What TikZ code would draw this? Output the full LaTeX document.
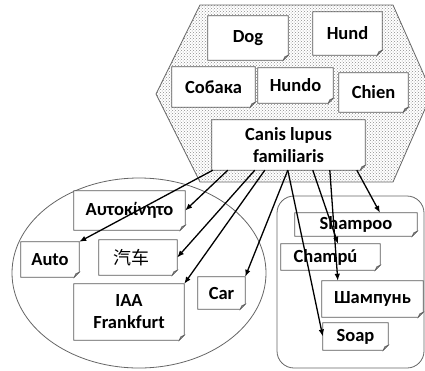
\documentclass[tikz,border=0pt]{standalone}
\usepackage{fontspec}
\setmainfont{Carlito}
\newfontfamily\cjkfont{Noto Sans CJK SC}
\usetikzlibrary{arrows.meta,patterns,calc}
\pgfdeclarelayer{bg}
\pgfsetlayers{bg,main}
\begin{document}
\begin{tikzpicture}[x=1pt,y=-1pt,
  doc/.style={inner sep=0pt, align=center, font=\fontsize{18.5}{22}\selectfont\bfseries},
  docline/.style={draw=black!65, line width=0.8pt, fill=white},
  conn/.style={line width=1.3pt, -{Latex[length=7pt,width=5.5pt]}},
  frame/.style={draw=black!60, line width=0.8pt},
  hexa/.style={draw=black!60, line width=0.8pt, pattern=crosshatch dots, pattern color=black!45}]
\useasboundingbox (0,0) rectangle (425,370);

% top group
\node[doc, minimum width=80pt, minimum height=44pt] (dog) at (248,38) {Dog};
\node[doc, minimum width=69pt, minimum height=43pt] (hund) at (347.5,33.5) {Hund};
\node[doc, minimum width=83pt, minimum height=40pt] (sobaka) at (213.5,87) {Собака};
\node[doc, minimum width=75pt, minimum height=35pt] (hundo) at (295.5,85.5) {Hundo};
\node[doc, minimum width=69pt, minimum height=39pt] (chien) at (373.5,92.5) {Chien};
\node[doc, minimum width=153pt, minimum height=50pt] (canis) at (288.5,145) {Canis lupus\\familiaris};

% left group
\node[doc, minimum width=111pt, minimum height=39pt] (autogr) at (129.5,210.5) {Αυτοκίνητο};
\node[doc, minimum width=58pt, minimum height=35pt] (auto) at (50,259.5) {Auto};
\node[doc, minimum width=78pt, minimum height=35pt] (qiche) at (138,257.5) {{\cjkfont\mdseries\fontsize{18}{22}\selectfont 汽车}\hspace{14pt}};
\node[doc, minimum width=110pt, minimum height=56pt] (iaa) at (129,312) {IAA\\Frankfurt};
\node[doc, minimum width=47pt, minimum height=32pt] (car) at (221.5,293) {Car};

% right group
\node[doc, minimum width=122pt, minimum height=23pt] (shampoo) at (356,224.5) {Shampoo};
\node[doc, minimum width=99pt, minimum height=26pt] (champu) at (330.5,257) {Champú\hspace{10pt}};
\node[doc, minimum width=101pt, minimum height=36pt] (shampun) at (372.5,299) {Шампунь};
\node[doc, minimum width=65pt, minimum height=27pt] (soap) at (355.5,336.5) {Soap};

\begin{pgfonlayer}{bg}
  \path[hexa] (200,5) -- (393,5) -- (432,93) -- (393,182) -- (200,182) -- (156,94) -- cycle;
  \draw[frame] (139,273) ellipse [x radius=127, y radius=95];
  \draw[frame, rounded corners=17pt] (277,196) rectangle (424,368);
  \foreach \n in {dog,hund,sobaka,hundo,chien,canis,autogr,auto,qiche,iaa,car,shampoo,champu,shampun,soap} {
    \filldraw[docline] (\n.south west) -- (\n.north west) -- (\n.north east)
      -- ([yshift=5pt]\n.south east) -- ([xshift=-5pt]\n.south east) -- cycle;
    \filldraw[draw=black!65, fill=black!35, line width=0.5pt] ([yshift=5pt]\n.south east)
      -- ([xshift=-5pt]\n.south east) -- ([xshift=-3.5pt,yshift=3.5pt]\n.south east) -- cycle;
  }
\end{pgfonlayer}

% connectors
\draw[conn] ($(canis.south west)+(1,0)$) -- (auto.north east);
\draw[conn] ($(canis.south west)+(16,0)$) -- (autogr.east);
\draw[conn] ($(canis.south west)+(43,0)$) -- (qiche.east);
\draw[conn] ($(canis.south west)+(53,0)$) -- (iaa.north east);
\draw[conn] ($(canis.south west)+(76,0)$) -- (car.north east);
\draw[conn] ($(canis.south west)+(76,0)$) -- (soap.west);
\draw[conn] ($(canis.south west)+(101,0)$) -- ($(champu.north)+(7.5,0)$);
\draw[conn] ($(canis.south west)+(118,0)$) -- ($(shampun.north west)+(16,0)$);
\draw[conn] ($(canis.south west)+(145,0)$) -- ($(shampoo.north)+(24,0)$);
\end{tikzpicture}
\end{document}
